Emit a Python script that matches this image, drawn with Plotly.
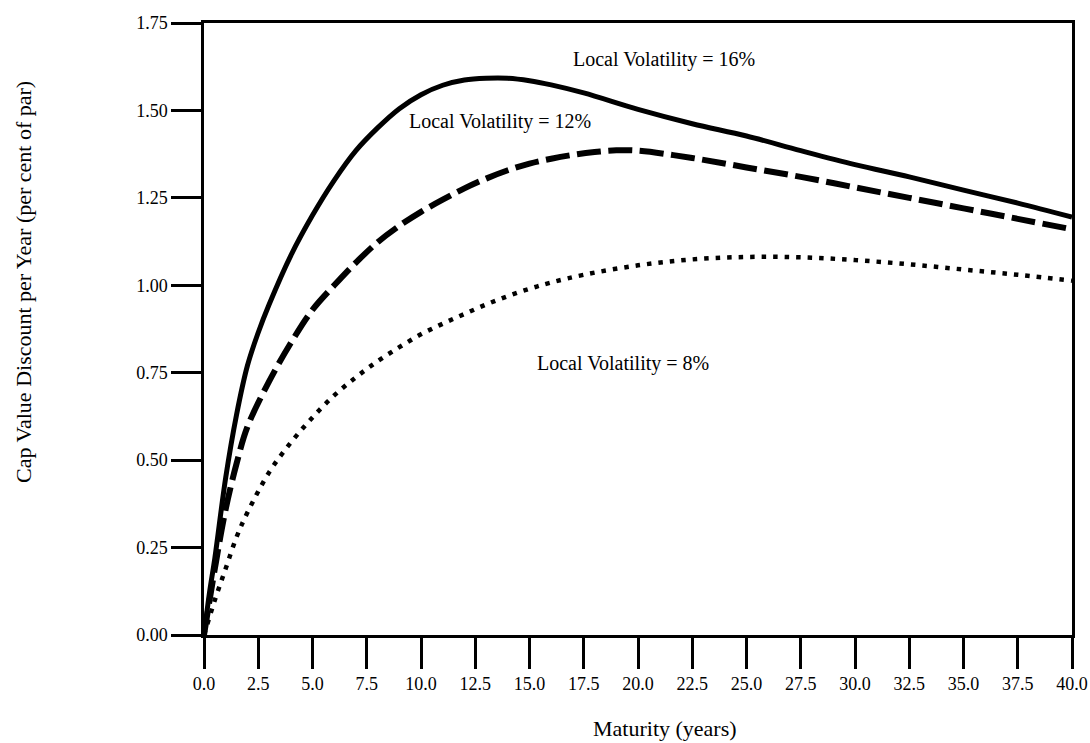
import plotly.graph_objects as go

# Local volatility = 16% (solid)
x16 = [0, 0.25, 0.5, 1, 1.5, 2, 2.5, 3, 4, 5, 6, 7, 8, 9, 10, 11, 12, 13, 14, 15, 16,
       17.5, 20, 22.5, 25, 27.5, 30, 32.5, 35, 37.5, 40]
y16 = [0, 0.12, 0.22, 0.45, 0.63, 0.77, 0.865, 0.945, 1.085, 1.20, 1.30, 1.385, 1.45, 1.505, 1.545,
       1.572, 1.587, 1.592, 1.592, 1.585, 1.573, 1.55, 1.503, 1.462, 1.427, 1.385, 1.345, 1.31,
       1.272, 1.235, 1.195]

# Local volatility = 12% (dashed)
x12 = [0, 0.5, 1, 1.5, 2, 3, 4, 5, 6, 7, 8, 9, 10, 11, 12, 13, 14, 15, 16, 17, 18, 19, 20,
       22.5, 25, 27.5, 30, 32.5, 35, 37.5, 40]
y12 = [0, 0.19, 0.36, 0.49, 0.595, 0.725, 0.835, 0.93, 1.0, 1.065, 1.123, 1.17, 1.21, 1.245,
       1.277, 1.305, 1.329, 1.348, 1.362, 1.373, 1.381, 1.386, 1.385, 1.364, 1.337, 1.31, 1.28,
       1.25, 1.22, 1.19, 1.16]

# Local volatility = 8% (dotted)
x8 = [0, 0.5, 1, 1.5, 2, 3, 4, 5, 6, 7, 8, 9, 10, 11, 12, 13, 14, 15, 16, 17.5, 20, 22.5,
      25, 27.5, 30, 32.5, 35, 37.5, 40]
y8 = [0, 0.10, 0.19, 0.28, 0.35, 0.465, 0.55, 0.622, 0.685, 0.737, 0.783, 0.823, 0.86, 0.89,
      0.918, 0.945, 0.969, 0.99, 1.008, 1.03, 1.057, 1.074, 1.081, 1.08, 1.072, 1.06, 1.045, 1.03, 1.013]

x_ticks = [0, 2.5, 5, 7.5, 10, 12.5, 15, 17.5, 20, 22.5, 25, 27.5, 30, 32.5, 35, 37.5, 40]
y_ticks = [0, 0.25, 0.5, 0.75, 1.0, 1.25, 1.5, 1.75]

labels = ["Local Volatility = 16%", "Local Volatility = 12%", "Local Volatility = 8%"]
label_x = [21.2, 13.66, 19.3]
label_y = [1.647, 1.467, 0.775]

FONT = "Liberation Serif"

fig = go.Figure()
fig.add_trace(go.Scatter(x=x8, y=y8, mode="lines", line=dict(color="black", width=4.5, dash="4.5px,7px", shape="spline"), showlegend=False))
fig.add_trace(go.Scatter(x=x12, y=y12, mode="lines", line=dict(color="black", width=6, dash="24px,7.5px", shape="spline"), showlegend=False))
fig.add_trace(go.Scatter(x=x16, y=y16, mode="lines", line=dict(color="black", width=5, shape="spline"), showlegend=False))

for t, lx, ly in zip(labels, label_x, label_y):
    fig.add_annotation(x=lx, y=ly, text=t, showarrow=False, xref="x", yref="y",
                       xanchor="center", yanchor="middle",
                       font=dict(family=FONT, size=20, color="black"))

PW, PH = 868, 612  # plot area size in px
fig.add_annotation(x=(665 - 204) / PW, y=(635 - 729) / PH, xref="paper", yref="paper",
                   xanchor="center", yanchor="middle",
                   text="Maturity (years)", showarrow=False,
                   font=dict(family=FONT, size=22, color="black"))
fig.add_annotation(x=(23 - 204) / PW, y=(635 - 282) / PH, xref="paper", yref="paper",
                   xanchor="center", yanchor="middle",
                   text="Cap Value Discount per Year (per cent of par)", textangle=-90,
                   showarrow=False, font=dict(family=FONT, size=22, color="black"))

fig.update_layout(
    width=1090, height=743,
    margin=dict(l=204, r=18, t=23, b=108, autoexpand=False),
    plot_bgcolor="white", paper_bgcolor="white",
    font=dict(family=FONT, size=18, color="black"),
)
fig.update_xaxes(range=[0, 40], tickvals=x_ticks, ticktext=[f"{v:.1f}" for v in x_ticks],
                 automargin=False,
                 showgrid=False, zeroline=False, showline=True, linecolor="black", linewidth=2.5,
                 mirror=True, ticks="outside", ticklen=31, tickwidth=2.5, tickcolor="black",
                 tickfont=dict(family=FONT, size=18))
fig.update_yaxes(range=[0, 1.75], tickvals=y_ticks, ticktext=[f"{v:.2f}" for v in y_ticks],
                 automargin=False,
                 showgrid=False, zeroline=False, showline=True, linecolor="black", linewidth=2.5,
                 mirror=True, ticks="outside", ticklen=30, tickwidth=2.5, tickcolor="black",
                 tickfont=dict(family=FONT, size=18))

fig.write_html("out.html", config={"displayModeBar": False},
               post_script="document.body.style.margin='0px';document.body.style.overflow='hidden';")
